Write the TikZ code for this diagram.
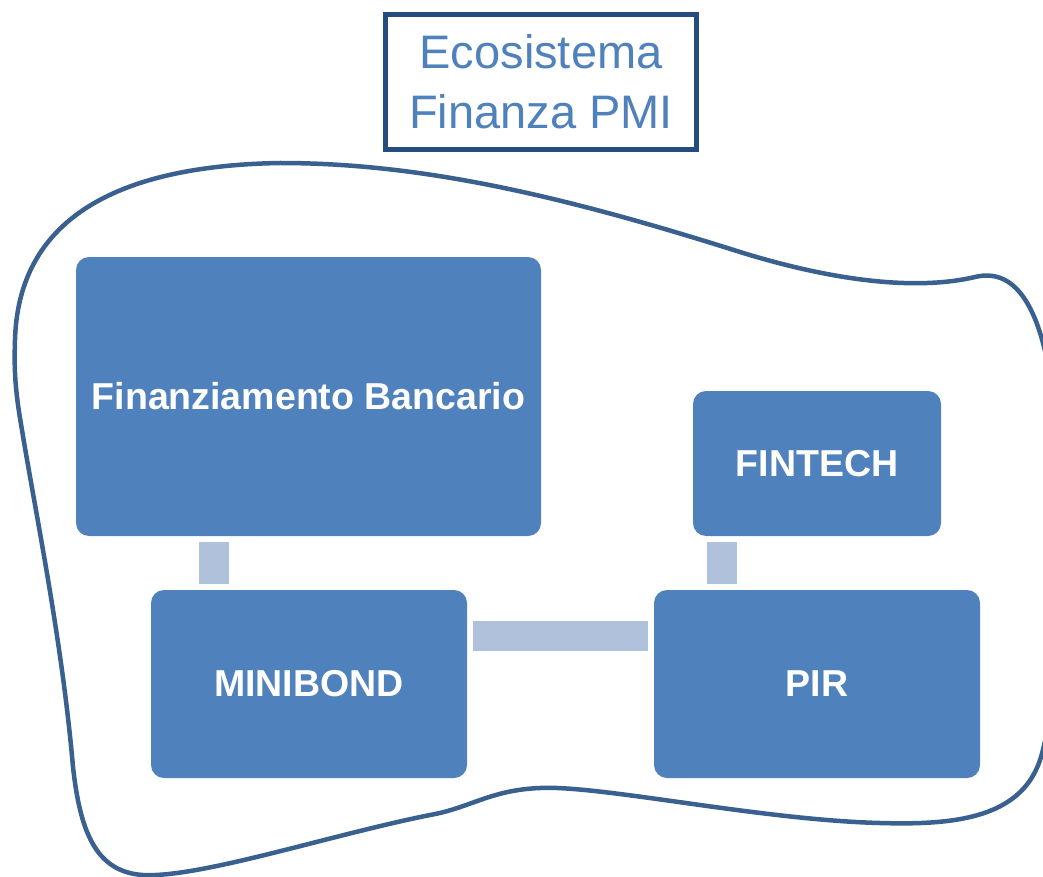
\documentclass[tikz,border=0pt]{standalone}
\usepackage{fontspec}
\setmainfont{Liberation Sans}
\usetikzlibrary{calc}
\definecolor{boxblue}{HTML}{4F81BD}
\definecolor{barblue}{HTML}{B0C1DB}
\definecolor{blobblue}{HTML}{3A6090}
\definecolor{titleframe}{HTML}{254C7E}
\tikzset{
  stepbox/.style={fill=boxblue, draw=none, rounded corners=13pt, text=white,
    font=\fontsize{37.5}{44}\selectfont\bfseries, inner sep=0pt, align=center},
  bar/.style={draw=barblue, line width=30pt, line cap=butt, shorten >=5.5pt, shorten <=5.5pt},
  titlebox/.style={draw=titleframe, line width=5pt, fill=white, text=boxblue,
    font=\fontsize{47}{60}\selectfont, align=center, inner sep=0pt,
    minimum width=311pt, minimum height=135pt},
  blob/.style={draw=blobblue, line width=4.5pt}
}
\begin{document}
\begin{tikzpicture}[x=1pt,y=-1pt]
\useasboundingbox (0,0) rectangle (1043,877);
\clip (0,0) rectangle (1043,877);
\fill[white] (0,0) rectangle (1043,877);
% blob outline
\draw[blob] (280,163)
  .. controls (420,163) and (560,195) .. (740,252)
  .. controls (840,283) and (920,290) .. (975,277)
  .. controls (1012,268) and (1040,300) .. (1052,390)
  .. controls (1062,530) and (1060,700) .. (1040,760)
  .. controls (1020,820) and (950,825) .. (880,823)
  .. controls (760,820) and (600,785) .. (540,788)
  .. controls (490,790) and (470,808) .. (430,815)
  .. controls (330,835) and (200,878) .. (143,875)
  .. controls (95,872) and (80,830) .. (73,767)
  .. controls (62,640) and (35,510) .. (22,430)
  .. controls (15,390) and (14,370) .. (15,340)
  .. controls (18,230) and (100,166) .. cycle;
% title
\node[titlebox] (title) at (541,82) {Ecosistema\\Finanza PMI};
% boxes
\node[stepbox, minimum width=465pt, minimum height=279pt] (fb) at (308.5,396.5) {Finanziamento Bancario};
\node[stepbox, minimum width=248pt, minimum height=145pt] (ft) at (817,463.5) {FINTECH};
\node[stepbox, minimum width=316pt, minimum height=188pt] (mb) at (309,684) {MINIBOND};
\node[stepbox, minimum width=326pt, minimum height=188pt] (pir) at (817,684) {PIR};
% connectors
\coordinate (cx1) at (214,0);
\coordinate (cx2) at (722,0);
\coordinate (cy1) at (0,636);
\draw[bar] (cx1 |- fb.south) -- (cx1 |- mb.north);
\draw[bar] (cx2 |- ft.south) -- (cx2 |- pir.north);
\draw[bar] (mb.east |- cy1) -- (pir.west |- cy1);
\end{tikzpicture}
\end{document}
